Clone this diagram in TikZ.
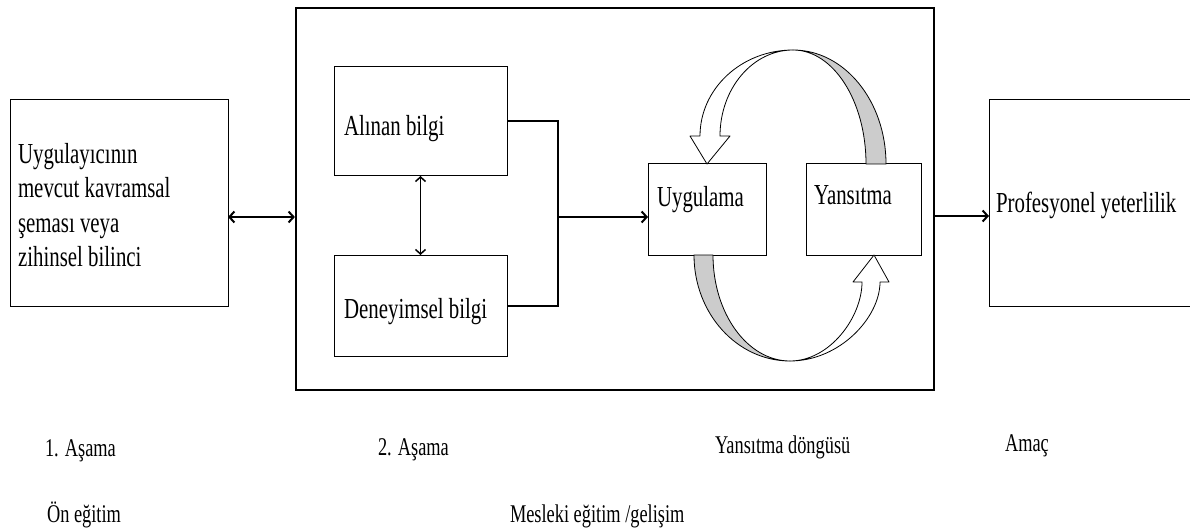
\documentclass[tikz,border=0pt]{standalone}
\usepackage{fontspec}
\setmainfont{Liberation Serif}[FakeStretch=0.72]
\usetikzlibrary{arrows.meta}
\definecolor{cyclegray}{RGB}{204,204,204}
\begin{document}
\begin{tikzpicture}[x=1pt,y=-1pt,
  box/.style={draw=black, line width=1pt, inner sep=0pt, outer sep=0pt},
  bigframe/.style={draw=black, line width=2.2pt, inner sep=0pt},
  txt/.style={inner sep=0pt, outer sep=0pt, font=\fontsize{29}{34.5}\selectfont, anchor=base west},
  lbl/.style={inner sep=0pt, outer sep=0pt, font=\fontsize{25.5}{30}\selectfont, anchor=base west},
  thickline/.style={line width=2pt},
  conn/.style={line width=2pt, -{Straight Barb[length=5pt,width=11pt]}},
  biconn/.style={line width=2pt, {Straight Barb[length=5pt,width=11pt]}-{Straight Barb[length=5pt,width=11pt]}},
  biconnthin/.style={line width=1.5pt, {Straight Barb[length=4.5pt,width=10pt]}-{Straight Barb[length=4.5pt,width=10pt]}},
  ribbon/.style={draw=black, line width=0.8pt, line join=round}
]
\useasboundingbox (0,0) rectangle (1190,529);

% boxes
\node[box, minimum width=218, minimum height=206] (lbox) at (119,203) {};
\node[bigframe, minimum width=638, minimum height=382] (frame) at (615,199) {};
\node[box, minimum width=173, minimum height=109] (alinan) at (420.5,121.5) {};
\node[box, minimum width=173, minimum height=101] (deney) at (420.5,305.5) {};
\node[box, minimum width=118, minimum height=91] (uyg) at (707,209.5) {};
\node[box, minimum width=115, minimum height=91] (yans) at (863.5,209.5) {};
\node[box, minimum width=240, minimum height=206] (rbox) at (1109,203) {};

% texts
\node[txt, align=left, anchor=north west] (ltext) at (18,143) {Uygulayıcının\\mevcut kavramsal\\şeması veya\\zihinsel bilinci};
\node[txt] (talinan) at (344,136) {Alınan bilgi};
\node[txt] (tdeney) at (344,318) {Deneyimsel bilgi};
\node[txt] (tuyg) at (657,207) {Uygulama};
\node[txt] (tyans) at (814,205) {Yansıtma};
\node[txt] (tprof) at (996,213) {Profesyonel yeterlilik};

% bottom labels
\node[lbl] (l1) at (45,456) {1. Aşama};
\node[lbl] (l2) at (378,455) {2. Aşama};
\node[lbl] (l3) at (715,453) {Yansıtma döngüsü};
\node[lbl] (l4) at (1005,451) {Amaç};
\node[lbl] (l5) at (47,522) {Ön eğitim};
\node[lbl] (l6) at (510,522) {Mesleki eğitim /gelişim};

% connectors
\coordinate (junc) at (558,217);
\coordinate (la) at (260,217);
\coordinate (ra) at (960,216);
\draw[thickline] (alinan.east) -| (junc) |- (deney.east);
\draw[conn] (junc) -- (uyg.west |- junc);
\draw[biconn] (lbox.east |- la) -- (frame.west |- la);
\draw[conn] (frame.east |- ra) -- (rbox.west |- ra);
\draw[biconnthin] (alinan.south) -- (deney.north);

% reflection cycle ribbons
\draw[ribbon, fill=white] (700,136) .. controls (700,88.5) and (741.6,50) .. (793,50)
  .. controls (752.7,50) and (720,88.5) .. (720,136) -- (730,136) -- (707,164) -- (690,136) -- cycle;
\draw[ribbon, fill=cyclegray] (793,50) .. controls (844.4,50) and (886,101) .. (886,164)
  -- (866,164) .. controls (866,101) and (833.3,50) .. (793,50) -- cycle;
\draw[ribbon, fill=cyclegray] (694,255) .. controls (694,313.5) and (737,361) .. (790,361)
  .. controls (747.5,361) and (713,313.5) .. (713,255) -- cycle;
\draw[ribbon, fill=white] (790,361) .. controls (839.7,361) and (880,317.4) .. (880,282)
  -- (889,282) -- (874,255) -- (853,282) -- (862,282)
  .. controls (862,317) and (830,361) .. (790,361) -- cycle;
\end{tikzpicture}
\end{document}
